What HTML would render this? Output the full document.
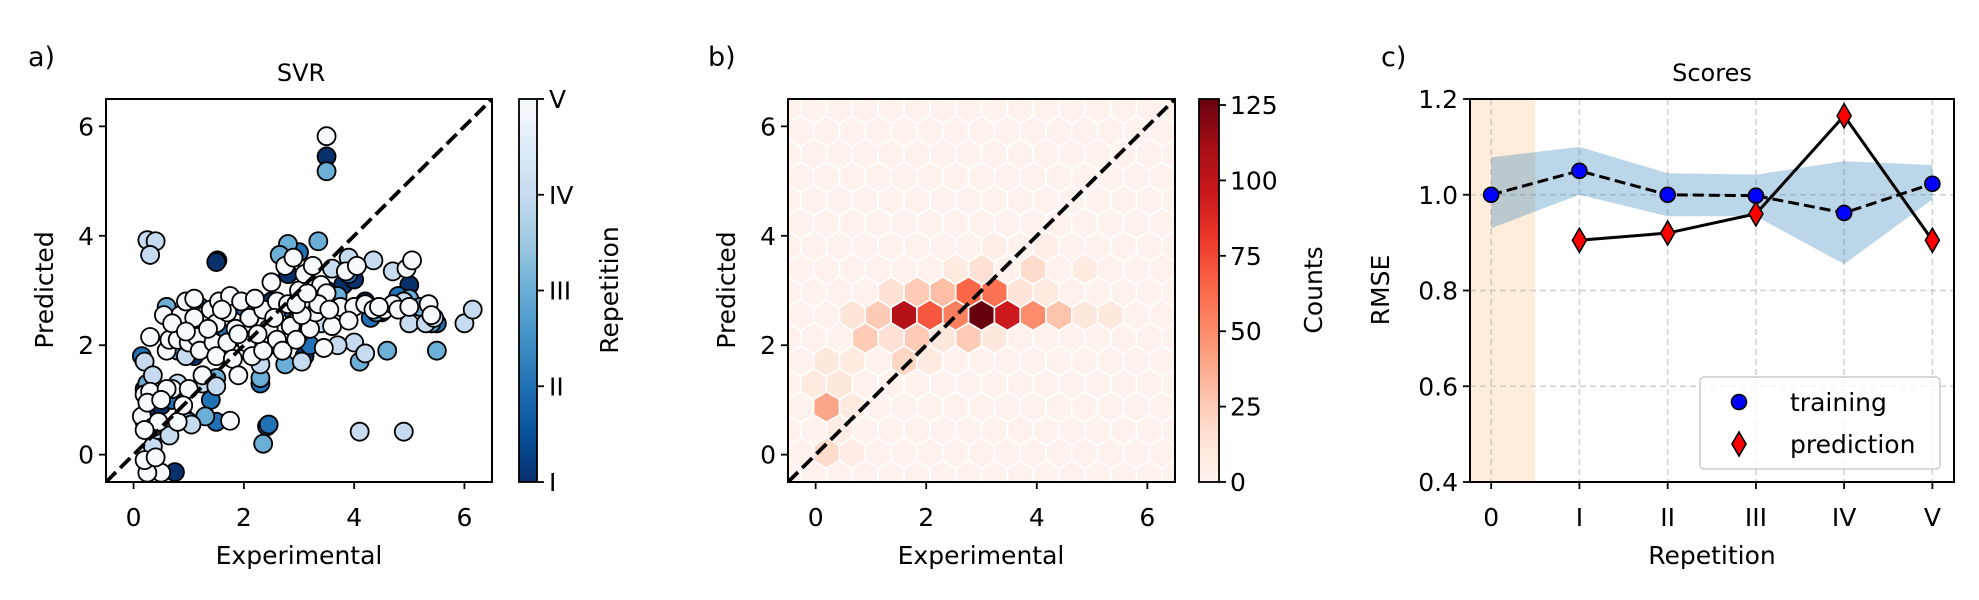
<!DOCTYPE html>
<html><head><meta charset="utf-8">
<style>
html,body{margin:0;padding:0;background:#fff;}
svg{display:block;font-family:"DejaVu Sans","Liberation Sans",sans-serif;}
</style></head>
<body>
<svg id="fig" width="1979" height="600" viewBox="0 0 1979 600" xmlns="http://www.w3.org/2000/svg">
<defs>
<linearGradient id="bluesGrad" x1="0" y1="1" x2="0" y2="0">
<stop offset="0" stop-color="#08306b"/><stop offset="0.125" stop-color="#08519c"/><stop offset="0.25" stop-color="#2171b5"/><stop offset="0.375" stop-color="#4292c6"/><stop offset="0.5" stop-color="#6baed6"/><stop offset="0.625" stop-color="#9ecae1"/><stop offset="0.75" stop-color="#c6dbef"/><stop offset="0.875" stop-color="#deebf7"/><stop offset="1" stop-color="#f7fbff"/>
</linearGradient>
<linearGradient id="redsGrad" x1="0" y1="1" x2="0" y2="0">
<stop offset="0" stop-color="#fff5f0"/><stop offset="0.125" stop-color="#fee0d2"/><stop offset="0.25" stop-color="#fcbba1"/><stop offset="0.375" stop-color="#fc9272"/><stop offset="0.5" stop-color="#fb6a4a"/><stop offset="0.625" stop-color="#ef3b2c"/><stop offset="0.75" stop-color="#cb181d"/><stop offset="0.875" stop-color="#a50f15"/><stop offset="1" stop-color="#67000d"/>
</linearGradient>
<clipPath id="clipA"><rect x="106" y="99" width="386" height="383"/></clipPath>
<clipPath id="clipB"><rect x="788" y="99" width="387" height="383"/></clipPath>
<clipPath id="clipC"><rect x="1470" y="99" width="484" height="383"/></clipPath>
</defs>
</svg>
<script>
// ---------- data: panel a scatter ----------
const expVals = [
 3.5,1.52,1.5,0.75,0.2,0.3,0.6,1.1,1.6,2.1, 2.5,2.8,3.1,3.3,3.8,4.0,4.5,5.0,5.4,3.0, 2.2,1.3,4.2,0.5,
 2.42,2.45,1.5,0.15,0.2,0.7,1.0,1.4,1.7,2.3, 2.6,2.9,3.2,3.5,3.9,4.3,4.8,5.2,5.5,2.0, 3.0,1.2,0.9,
 3.5,2.35,5.5,0.25,0.4,0.8,1.3,1.5,2.3,2.75, 2.8,2.65,3.35,3.0,3.5,4.1,4.6,5.0,5.2,5.4, 1.0,2.0,3.7,4.4,0.6,1.8,
 0.25,0.4,0.3,4.1,4.9,6.0,6.15,0.35,0.2,0.35, 0.45,0.65,0.95,1.05,1.25,1.5,3.05,3.4,3.6,3.9, 4.0,4.2,4.35,4.7,4.9,5.0,5.3,5.45,2.3,2.9, 3.7,0.8,
 3.5,1.75,0.5,0.25,0.2,0.4,0.15,0.2,0.3,0.35, 0.25,0.45,0.3,0.6,0.55,0.65,0.7,0.8,0.85,0.95, 1.0,1.1,1.15,1.2,1.3,1.4,1.45,1.5,1.55,1.5,
 1.7,1.75,1.7,1.8,1.9,1.95,2.05,2.1,2.15,2.35, 2.35,2.45,2.5,2.6,2.7,2.75,2.85,2.9,2.95,3.0, 3.1,3.15,3.2,3.3,3.4,3.45,3.5,3.6,3.75,3.85,
 4.0,4.05,4.2,4.35,4.55,4.7,4.95,5.05,5.35,1.0, 0.6,0.8,0.2,0.5,0.9,2.6,3.25,1.25,
 1.1,1.35,1.6,1.85,2.25,2.55,2.8,3.05,3.35,3.55, 3.9,4.45,4.8,5.4,0.7,0.95,1.9,2.2,2.95,3.15, 5.0];
const predVals = [
 5.45,3.55,3.52,-0.32,1.2,0.7,2.6,1.8,2.0,2.5, 2.8,3.3,1.8,2.9,3.1,3.2,2.6,3.1,2.5,2.2, 1.9,2.4,2.8,0.9,
 0.52,0.55,0.6,1.8,0.6,1.0,2.3,1.0,2.2,1.3, 2.0,2.6,2.0,3.0,3.3,2.5,2.9,2.7,2.4,2.7, 3.7,2.7,0.7,
 5.18,0.2,1.9,1.3,0.4,1.9,0.7,1.4,1.4,1.65, 3.85,3.65,3.9,2.2,2.6,1.7,1.9,2.85,2.7,2.4, 0.6,2.1,2.9,2.6,2.7,2.8,
 3.92,3.9,3.65,0.42,0.42,2.4,2.65,0.15,1.7,1.45, 0.45,0.35,1.8,0.55,1.3,1.25,1.7,2.4,3.4,3.6, 2.05,1.85,3.55,3.35,2.8,2.4,2.4,2.5,1.65,2.4, 2.0,1.3,
 5.82,0.62,-0.33,-0.33,-0.1,-0.05,0.7,1.1,1.15,0.5, 0.95,0.6,2.15,1.9,2.55,2.1,1.2,2.1,2.55,2.8, 2.05,2.85,2.15,1.9,2.55,2.65,2.05,1.8,2.8,2.4,
 2.6,2.9,2.05,1.75,1.45,2.8,2.05,2.5,1.8,2.65, 1.9,2.3,3.15,2.1,1.9,3.45,2.35,3.6,2.1,3.0, 3.3,2.7,2.3,2.6,3.1,1.95,2.95,2.35,2.7,3.35,
 2.7,3.45,2.75,2.65,2.65,2.75,3.4,3.55,2.75,1.2, 1.2,0.6,0.45,1.0,0.9,2.8,3.45,1.45,
 2.5,2.3,2.65,2.3,2.2,2.5,2.75,2.55,2.75,2.65, 2.45,2.7,2.65,2.55,2.4,2.25,2.2,2.85,2.75,2.95, 2.7];
const repVals = [
 0,0,0,0,0,0,0,0,0,0, 0,0,0,0,0,0,0,0,0,0, 0,0,0,0,
 1,1,1,1,1,1,1,1,1,1, 1,1,1,1,1,1,1,1,1,1, 1,1,1,
 2,2,2,2,2,2,2,2,2,2, 2,2,2,2,2,2,2,2,2,2, 2,2,2,2,2,2,
 3,3,3,3,3,3,3,3,3,3, 3,3,3,3,3,3,3,3,3,3, 3,3,3,3,3,3,3,3,3,3, 3,3,
 4,4,4,4,4,4,4,4,4,4, 4,4,4,4,4,4,4,4,4,4, 4,4,4,4,4,4,4,4,4,4,
 4,4,4,4,4,4,4,4,4,4, 4,4,4,4,4,4,4,4,4,4, 4,4,4,4,4,4,4,4,4,4,
 4,4,4,4,4,4,4,4,4,4, 4,4,4,4,4,4,4,4,
 4,4,4,4,4,4,4,4,4,4, 4,4,4,4,4,4,4,4,4,4, 4];
const repLabels = ["I","II","III","IV","V"];
const xyTicks = [0,2,4,6];

// ---------- data: panel b hexbin (row, col-index, count) ----------
const hexRowIdx = [0,0,0,0,0,0,0,0,0,0,0, 1,1,1,1,1,1,1, 2,2,2,2, -1,-1,-1,-1,-1,-1, -2,-2,-2,-2, -3,-3, -4,-4, -5, -6,-6, 3,3];
const hexColIdx = [-3,-2,-1,0,1,2,3,4,5,-4,-5, -2.5,-1.5,-0.5,0.5,1.5,-3.5,2.5, 0,2,4,-1, -4.5,-3.5,-2.5,-0.5,0.5,-1.5, -6,-3,-2,-5, -6.5,-5.5, -6,-5, -5.5, -6,-5, 0.5,2.5];
const hexCounts = [105,70,55,127,95,50,28,10,10,25,12, 25,30,65,60,12,14,8, 15,18,8,8, 25,15,25,25,10,10, 10,20,8,8, 8,10, 40,8, 6, 18,6, 5,5];
const hexBaseCount = 2;
const countTicks = [0,25,50,75,100,125];
const countMax = 127;

// ---------- data: panel c scores ----------
const repCats = ["0","I","II","III","IV","V"];
const trainRmse = [1.0,1.05,1.0,0.998,0.962,1.023];
const trainUpper = [1.078,1.10,1.045,1.042,1.07,1.062];
const trainLower = [0.93,1.0,0.955,0.955,0.855,0.99];
const predRmse = [null,0.905,0.92,0.96,1.165,0.905];
const rmseTicks = [0.4,0.6,0.8,1.0,1.2];

const NS = "http://www.w3.org/2000/svg";
const svg = document.getElementById('fig');
function mk(tag, attrs, parent, text){
  const e = document.createElementNS(NS, tag);
  for (const k in attrs) e.setAttribute(k, attrs[k]);
  if (text !== undefined) e.textContent = text;
  (parent || svg).appendChild(e);
  return e;
}
function lin(d0,d1,r0,r1){ return v => r0 + (v-d0)/(d1-d0)*(r1-r0); }
const FS = 25;
function hex2rgb(h){ return [parseInt(h.substr(1,2),16),parseInt(h.substr(3,2),16),parseInt(h.substr(5,2),16)]; }
function mix(a,b,f){ const A=hex2rgb(a),B=hex2rgb(b); return 'rgb('+A.map((v,i)=>Math.round(v+(B[i]-v)*f)).join(',')+')'; }
const bluesStops = ["#f7fbff","#deebf7","#c6dbef","#9ecae1","#6baed6","#4292c6","#2171b5","#08519c","#08306b"];
function bluesR(t){ if(!isFinite(t)) t=1; t=Math.max(0,Math.min(1,t)); const u=(1-t)*8; const i=Math.min(7,Math.floor(u)); return mix(bluesStops[i],bluesStops[i+1],u-i); }
const redsStops = ["#fff5f0","#fee0d2","#fcbba1","#fc9272","#fb6a4a","#ef3b2c","#cb181d","#a50f15","#67000d"];
function reds(t){ if(!isFinite(t)) t=0; t=Math.max(0,Math.min(1,t)); const u=t*8; const i=Math.min(7,Math.floor(u)); return mix(redsStops[i],redsStops[i+1],u-i); }
function label(g,x,y,txt,name,rot,size){
  const t=mk('text',{x:x,y:y,'font-size':size||FS,'text-anchor':'middle'},g,txt);
  if(rot) t.setAttribute('transform','rotate(-90 '+x+' '+y+')');
  
  
  return t;
}
function drawAxes(g, ax, sx, sy, xt, yt, xfmt, yfmt, prefix){
  const fr = mk('rect',{x:ax.x0,y:ax.y0,width:ax.x1-ax.x0,height:ax.y1-ax.y0,fill:'none',stroke:'#000','stroke-width':2},g);
  
  
  xt.forEach((v,i)=>{
    const x=sx(v);
    mk('line',{x1:x,y1:ax.y1,x2:x,y2:ax.y1+7,stroke:'#000','stroke-width':1.8},g);
    const t=mk('text',{x:x,y:526,'font-size':FS,'text-anchor':'middle'},g,xfmt(v,i));
    
    
  });
  yt.forEach((v,i)=>{
    const y=sy(v);
    mk('line',{x1:ax.x0-7,y1:y,x2:ax.x0,y2:y,stroke:'#000','stroke-width':1.8},g);
    const t=mk('text',{x:ax.x0-12,y:y+9,'font-size':FS,'text-anchor':'end'},g,yfmt(v,i));
    
    
  });
}

// ================= PANEL A =================
const gA = mk('g',{});


const axA = {x0:106,x1:492,y0:99,y1:482};
const sxA = lin(-0.5,6.5,axA.x0,axA.x1), syA = lin(-0.5,6.5,axA.y1,axA.y0);
const ptsA = mk('g',{'clip-path':'url(#clipA)'},gA);


const nPts = Math.min(expVals.length,predVals.length,repVals.length);
for (let i=0;i<nPts;i++){
  const c = mk('circle',{cx:sxA(expVals[i]),cy:syA(predVals[i]),r:9,fill:bluesR(repVals[i]/4),stroke:'#000','stroke-width':1.8},ptsA);
  
  
}
const diagA = mk('line',{x1:sxA(-0.5),y1:syA(-0.5),x2:sxA(6.5),y2:syA(6.5),stroke:'#000','stroke-width':3.8,'stroke-dasharray':'14,6','clip-path':'url(#clipA)'},gA);


drawAxes(gA,axA,sxA,syA,xyTicks,xyTicks,v=>String(v),v=>String(v),'panel-a');
label(gA,299,564,'Experimental','x-axis-title-a');
label(gA,53,290,'Predicted','y-axis-title-a',true);
label(gA,301,81,'SVR','title-svr',false,24);
const pa=mk('text',{x:28,y:66,'font-size':27},gA,'a)');


const cbA = mk('rect',{x:519,y:99,width:18,height:383,fill:'url(#bluesGrad)',stroke:'#000','stroke-width':1.8},gA);


const cbAy = lin(0,4,482,99);
repLabels.forEach((l,i)=>{
  const y=cbAy(i);
  mk('line',{x1:537,y1:y,x2:544,y2:y,stroke:'#000','stroke-width':1.8},gA);
  const t=mk('text',{x:549,y:y+9,'font-size':FS},gA,l);
  
  
});
label(gA,618,290,'Repetition','colorbar-title-repetition',true);

// ================= PANEL B =================
const gB = mk('g',{});


const axB = {x0:788,x1:1175,y0:99,y1:482};
const sxB = lin(-0.5,6.5,axB.x0,axB.x1), syB = lin(-0.5,6.5,axB.y1,axB.y0);
const hexX0 = 3.0, hexY0 = 2.55, hexSx = 0.467, hexSy = 0.84;
const hexG = mk('g',{'clip-path':'url(#clipB)'},gB);


function countAt(r,c){
  for (let k=0;k<hexRowIdx.length;k++) if (hexRowIdx[k]===r && Math.abs(hexColIdx[k]-c)<1e-6) return hexCounts[k];
  return hexBaseCount;
}
const hexShape = [[0.5,1/3],[0.5,-1/3],[0,-2/3],[-0.5,-1/3],[-0.5,1/3],[0,2/3]];
for (let r=-8;r<=11;r++){
  const off = (Math.abs(r)%2===1)?0.5:0;
  for (let ci=-9;ci<=9;ci++){
    const c = ci+off;
    const cx = hexX0 + c*hexSx, cy = hexY0 + r*hexSy/2;
    const ps = hexShape.map(p=>sxB(cx+p[0]*hexSx)+','+syB(cy+p[1]*hexSy/2)).join(' ');
    const n = countAt(r,c);
    const h = mk('polygon',{points:ps,fill:reds(n/countMax),stroke:'#fff','stroke-width':1.6},hexG);
    
    
  }
}
const diagB = mk('line',{x1:sxB(-0.5),y1:syB(-0.5),x2:sxB(6.5),y2:syB(6.5),stroke:'#000','stroke-width':3.8,'stroke-dasharray':'14,6','clip-path':'url(#clipB)'},gB);


drawAxes(gB,axB,sxB,syB,xyTicks,xyTicks,v=>String(v),v=>String(v),'panel-b');
label(gB,981,564,'Experimental','x-axis-title-b');
label(gB,735,290,'Predicted','y-axis-title-b',true);
const pb=mk('text',{x:708,y:66,'font-size':27},gB,'b)');


const cbB = mk('rect',{x:1199,y:99,width:20,height:383,fill:'url(#redsGrad)',stroke:'#000','stroke-width':1.8},gB);


const cbBy = lin(0,countMax,482,99);
countTicks.forEach(v=>{
  const y=cbBy(v);
  mk('line',{x1:1219,y1:y,x2:1226,y2:y,stroke:'#000','stroke-width':1.8},gB);
  const t=mk('text',{x:1230,y:y+9,'font-size':FS},gB,String(v));
  
  
});
label(gB,1322,290,'Counts','colorbar-title-counts',true);

// ================= PANEL C =================
const gC = mk('g',{});


const axC = {x0:1470,x1:1954,y0:99,y1:482};
const sxC = lin(-0.24,5.245,axC.x0,axC.x1), syC = lin(0.4,1.2,axC.y1,axC.y0);
const span = mk('rect',{x:axC.x0,y:axC.y0,width:sxC(0.5)-axC.x0,height:axC.y1-axC.y0,fill:'#ff7f0e','fill-opacity':0.15},gC);


repCats.forEach((c,i)=>{ mk('line',{x1:sxC(i),y1:axC.y0,x2:sxC(i),y2:axC.y1,stroke:'#b0b0b0','stroke-opacity':0.6,'stroke-width':1.5,'stroke-dasharray':'6,4'},gC); });
rmseTicks.forEach(v=>{ mk('line',{x1:axC.x0,y1:syC(v),x2:axC.x1,y2:syC(v),stroke:'#b0b0b0','stroke-opacity':0.6,'stroke-width':1.5,'stroke-dasharray':'6,4'},gC); });
let bandPts = trainUpper.map((v,i)=>sxC(i)+','+syC(v));
bandPts = bandPts.concat(trainLower.map((v,i)=>sxC(i)+','+syC(v)).reverse());
const band = mk('polygon',{points:bandPts.join(' '),fill:'#1f77b4','fill-opacity':0.3},gC);


const tLine = mk('polyline',{points:trainRmse.map((v,i)=>sxC(i)+','+syC(v)).join(' '),fill:'none',stroke:'#000','stroke-width':3,'stroke-dasharray':'11,5'},gC);


const pLine = mk('polyline',{points:predRmse.map((v,i)=>v===null?null:sxC(i)+','+syC(v)).filter(p=>p).join(' '),fill:'none',stroke:'#000','stroke-width':3},gC);


function diamond(g,x,y){ return mk('polygon',{points:(x)+','+(y-12)+' '+(x+7)+','+y+' '+(x)+','+(y+12)+' '+(x-7)+','+y,fill:'#ff0000',stroke:'#000','stroke-width':1.6},g); }
trainRmse.forEach((v,i)=>{
  const c=mk('circle',{cx:sxC(i),cy:syC(v),r:7.5,fill:'#0000ff',stroke:'#000','stroke-width':1.6},gC);
  
  
});
predRmse.forEach((v,i)=>{
  if(v===null) return;
  const d=diamond(gC,sxC(i),syC(v));
  
  
});
drawAxes(gC,axC,sxC,syC,[0,1,2,3,4,5],rmseTicks,(v,i)=>repCats[i],v=>v.toFixed(1),'panel-c');
label(gC,1712,564,'Repetition','x-axis-title-c');
label(gC,1389,290,'RMSE','y-axis-title-c',true);
label(gC,1712,81,'Scores','title-scores',false,24);
const pc=mk('text',{x:1381,y:66,'font-size':27},gC,'c)');


const leg = mk('g',{},gC);


mk('rect',{x:1700,y:377,width:240,height:92,rx:4,fill:'#fff','fill-opacity':0.8,stroke:'#cccccc','stroke-width':1.5},leg);
const lc=mk('circle',{cx:1739,cy:402,r:7.5,fill:'#0000ff',stroke:'#000','stroke-width':1.6},leg);


const lt1=mk('text',{x:1790,y:411,'font-size':FS},leg,'training');


const ld=diamond(leg,1739,444);


const lt2=mk('text',{x:1790,y:453,'font-size':FS},leg,'prediction');


</script>
</body></html>
